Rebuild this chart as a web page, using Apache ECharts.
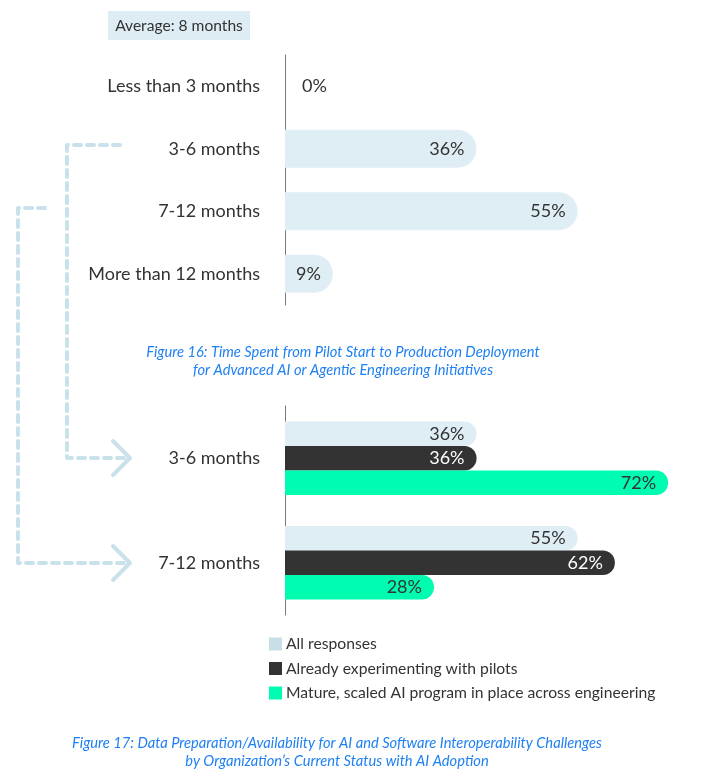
<!DOCTYPE html>
<html>
<head>
<meta charset="utf-8">
<script src="https://cdn.jsdelivr.net/npm/echarts@6/dist/echarts.min.js"></script>
<style>
  html, body { margin: 0; padding: 0; background: #fff; }
  #chart { width: 706px; height: 772px; }
</style>
</head>
<body>
<div id="chart"></div>
<script>
// ---------------- 数据 ----------------
// Figure 16
const topCategories = ['Less than 3 months', '3-6 months', '7-12 months', 'More than 12 months'];
const topValues = [0, 36, 55, 9];

// Figure 17
const bottomCategories = ['3-6 months', '7-12 months'];
const seriesNames = ['All responses', 'Already experimenting with pilots', 'Mature, scaled AI program in place across engineering'];
const allResponses = [36, 55];
const experimenting = [36, 62];
const mature = [72, 28];

const averageText = 'Average: 8 months';
const caption16 = ['Figure 16: Time Spent from Pilot Start to Production Deployment', 'for Advanced AI or Agentic Engineering Initiatives'];
const caption17 = ['Figure 17: Data Preparation/Availability for AI and Software Interoperability Challenges', 'by Organization\u2019s Current Status with AI Adoption'];

// 颜色
const colors = ['#dfedf4', '#333333', '#00fcb0'];
const legendColors = ['#c9dfe7', '#333333', '#00fcb0'];
const connectorColor = '#c9e1ea';
const captionColor = '#1f80f2';
const FONT = 'Lato, "Noto Sans", sans-serif';

const chart = echarts.init(document.getElementById('chart'));

function pctLabel(color) {
    return {
        show: true,
        position: 'insideRight',
        distance: 12,
        formatter: '{c}%',
        color: color,
        fontSize: 18,
        fontFamily: FONT
    };
}

// 0% 放在轴右侧
const topData = topValues.map(v => v === 0
    ? { value: v, label: { position: 'right', distance: 17 } }
    : v);

const catAxis = {
    type: 'category',
    inverse: true,
    axisLine: { show: true, onZero: false, lineStyle: { color: '#7a7a7a', width: 1 } },
    axisTick: { show: false },
    axisLabel: { color: '#333', fontSize: 18, fontFamily: FONT, margin: 25 },
    splitLine: { show: false }
};
const valAxis = {
    type: 'value',
    min: 0,
    max: 78,
    show: false
};

// 虚线连接
function dashed(points) {
    return {
        type: 'polyline',
        shape: { points: points },
        style: { stroke: connectorColor, lineWidth: 4, lineDash: [7, 6], lineCap: 'round', lineJoin: 'round', fill: null },
        silent: true
    };
}
function chevron(x, y) {
    return {
        type: 'polyline',
        shape: { points: [[x - 17, y - 17], [x, y], [x - 17, y + 17]] },
        style: { stroke: connectorColor, lineWidth: 4, lineCap: 'round', lineJoin: 'round', fill: null },
        silent: true
    };
}
function caption(lines, x, y) {
    return lines.map((t, i) => ({
        type: 'text',
        x: x,
        y: y + i * 18,
        style: {
            text: t,
            fill: captionColor,
            font: 'italic 14.7px ' + FONT,
            textAlign: 'center',
            textVerticalAlign: 'middle'
        },
        silent: true
    }));
}

const option = {
    animation: false,
    textStyle: { fontFamily: FONT },
    grid: [
        { left: 285, top: 55, width: 415, height: 250 },
        { left: 285, top: 406, width: 415, height: 209 }
    ],
    xAxis: [
        Object.assign({ gridIndex: 0 }, valAxis),
        Object.assign({ gridIndex: 1 }, valAxis)
    ],
    yAxis: [
        Object.assign({ gridIndex: 0, data: topCategories }, catAxis),
        Object.assign({ gridIndex: 1, data: bottomCategories }, catAxis)
    ],
    legend: {
        orient: 'vertical',
        left: 264,
        top: 631,
        itemWidth: 13,
        itemHeight: 13,
        itemGap: 8.5,
        icon: 'rect',
        textStyle: { color: '#333', fontSize: 15.7, fontFamily: FONT, padding: [0, 0, 0, -1] },
        data: seriesNames.map((n, i) => ({ name: n, itemStyle: { color: legendColors[i] } }))
    },
    series: [
        {
            name: seriesNames[0],
            type: 'bar',
            xAxisIndex: 0,
            yAxisIndex: 0,
            barWidth: 38,
            data: topData,
            itemStyle: { color: colors[0], borderRadius: [0, 19, 19, 0] },
            label: pctLabel('#333')
        },
        {
            name: seriesNames[0],
            type: 'bar',
            xAxisIndex: 1,
            yAxisIndex: 1,
            barWidth: 24.5,
            barGap: '0%',
            data: allResponses,
            itemStyle: { color: colors[0], borderRadius: [0, 12, 12, 0] },
            label: pctLabel('#333')
        },
        {
            name: seriesNames[1],
            type: 'bar',
            xAxisIndex: 1,
            yAxisIndex: 1,
            barWidth: 24.5,
            barGap: '0%',
            data: experimenting,
            itemStyle: { color: colors[1], borderRadius: [0, 12, 12, 0] },
            label: pctLabel('#fff')
        },
        {
            name: seriesNames[2],
            type: 'bar',
            xAxisIndex: 1,
            yAxisIndex: 1,
            barWidth: 24.5,
            barGap: '0%',
            data: mature,
            itemStyle: { color: colors[2], borderRadius: [0, 12, 12, 0] },
            label: pctLabel('#333')
        }
    ],
    graphic: [
        // Average 标签
        {
            type: 'group',
            left: 108,
            top: 11,
            children: [
                { type: 'rect', shape: { x: 0, y: 0, width: 142, height: 29 }, style: { fill: '#deedf4' } },
                {
                    type: 'text', x: 71, y: 15,
                    style: { text: averageText, fill: '#333', font: '15.6px ' + FONT, textAlign: 'center', textVerticalAlign: 'middle' }
                }
            ]
        },
        dashed([[120, 145], [67, 145], [67, 458], [128, 458]]),
        chevron(130, 458),
        dashed([[45, 208], [18, 208], [18, 563], [128, 563]]),
        chevron(130, 563)
    ].concat(caption(caption16, 343, 352), caption(caption17, 337, 743))
};

chart.setOption(option);
</script>
</body>
</html>
